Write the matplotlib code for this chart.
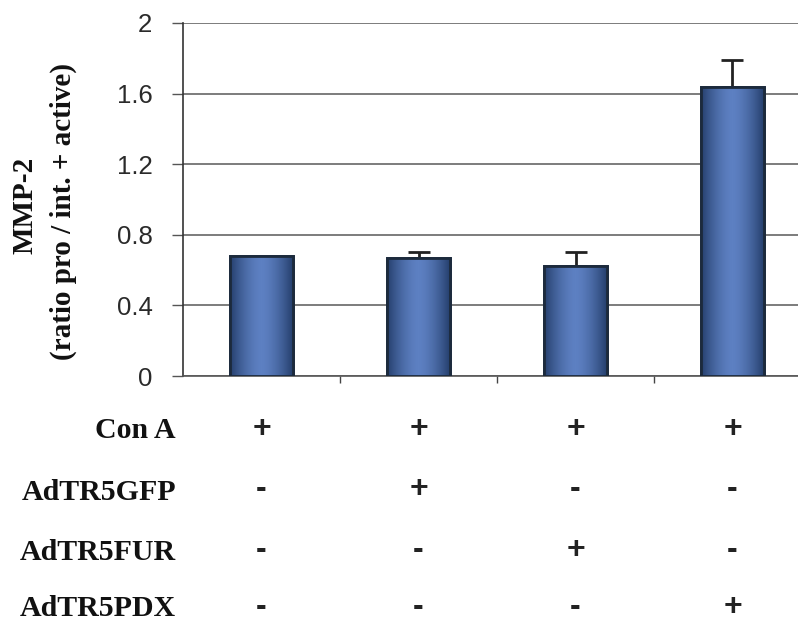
import matplotlib
matplotlib.use("Agg")
import matplotlib.pyplot as plt
import matplotlib.transforms as mtrans
from matplotlib.colors import LinearSegmentedColormap
import numpy as np

# Data
categories = ["1", "2", "3", "4"]
values = [0.68, 0.67, 0.625, 1.635]
err_up = [0.0, 0.03, 0.075, 0.155]
yticks = [0, 0.4, 0.8, 1.2, 1.6, 2.0]
ytick_labels = ["0", "0.4", "0.8", "1.2", "1.6", "2"]
row_labels = ["Con A", "AdTR5GFP", "AdTR5FUR", "AdTR5PDX"]
row_signs = [
    ["+", "+", "+", "+"],
    ["-", "+", "-", "-"],
    ["-", "-", "+", "-"],
    ["-", "-", "-", "+"],
]
ylabel_lines = ["MMP-2", "(ratio pro / int. + active)"]

W, H = 798, 631
fig = plt.figure(figsize=(W / 100, H / 100), dpi=100)
ax_left, ax_right = 183, 811
ax_top, ax_bot = 23, 376
ax = fig.add_axes([ax_left / W, (H - ax_bot) / H, (ax_right - ax_left) / W, (ax_bot - ax_top) / H])

x = np.arange(len(categories))
bars = ax.bar(x, values, width=0.4, color="#5072b4", edgecolor="#1c2a3c", linewidth=2, zorder=3)

# horizontal gradient fill inside bars
grad = np.linspace(0, 1, 64)
shade = 1 - 0.55 * (2 * np.abs(grad - 0.5)) ** 1.6
cmap = LinearSegmentedColormap.from_list("b", ["#26406e", "#5d80c2"])
for b in bars:
    x0, w, h = b.get_x(), b.get_width(), b.get_height()
    im = ax.imshow(shade[None, :], extent=[x0, x0 + w, 0, h], aspect="auto",
                   cmap=cmap, vmin=0.45, vmax=1.0, zorder=3.5, interpolation="bilinear")
    im.set_clip_path(b)
    ax.add_patch(plt.Rectangle((x0, 0), w, h, fill=False, edgecolor="#1c2a3c", linewidth=2, zorder=4))

for xi, v, e in zip(x, values, err_up):
    if e > 0:
        ax.errorbar(xi, v, yerr=[[0], [e]], fmt="none", ecolor="#222222", elinewidth=2,
                    capsize=8, capthick=2, zorder=2.5)

ax.set_xlim(-0.5, 3.5)
ax.set_ylim(0, 2)
ax.set_yticks(yticks)
ax.set_yticklabels(ytick_labels, fontsize=18.5, family="Liberation Sans", color="#2a2a2a")
ax.yaxis.grid(True, color="#666666", linewidth=1.2, zorder=0)
ax.set_axisbelow(True)
ax.set_xticks([0.5, 1.5, 2.5])
ax.set_xticklabels([])
ax.tick_params(axis="x", length=5, width=1, color="#444444", direction="out")
ax.tick_params(axis="y", length=8, width=1, color="#555555", direction="out", pad=14)
for s in ["top", "right"]:
    ax.spines[s].set_visible(False)
ax.spines["left"].set_color("#333333")
ax.spines["bottom"].set_color("#555555")
ax.spines["left"].set_linewidth(1.2)
ax.spines["bottom"].set_linewidth(1.2)

# y label
fig.text(25 / W, 1 - 205 / H, ylabel_lines[0], rotation=90, ha="center", va="center",
         fontsize=21, fontweight="bold", family="Liberation Serif", color="#111111")
fig.text(63 / W, 1 - 212 / H, ylabel_lines[1], rotation=90, ha="center", va="center",
         fontsize=21, fontweight="bold", family="Liberation Serif", color="#111111")

# bottom table
tr = mtrans.blended_transform_factory(ax.transData, fig.transFigure)
label_y = [431, 492, 553, 608]
sign_y = [429, 489, 550, 607]
for lab, signs, ly, sy in zip(row_labels, row_signs, label_y, sign_y):
    fig.text(176 / W, 1 - ly / H, lab, ha="right", va="center", fontsize=21.5,
             fontweight="bold", family="Liberation Serif", color="#111111")
    for xi, s in zip(x, signs):
        ax.text(xi, 1 - sy / H, s, transform=tr, ha="center", va="center",
                fontsize=23, fontweight="bold", family="Liberation Sans", color="#222222")

fig.savefig("out.png", dpi=100)
